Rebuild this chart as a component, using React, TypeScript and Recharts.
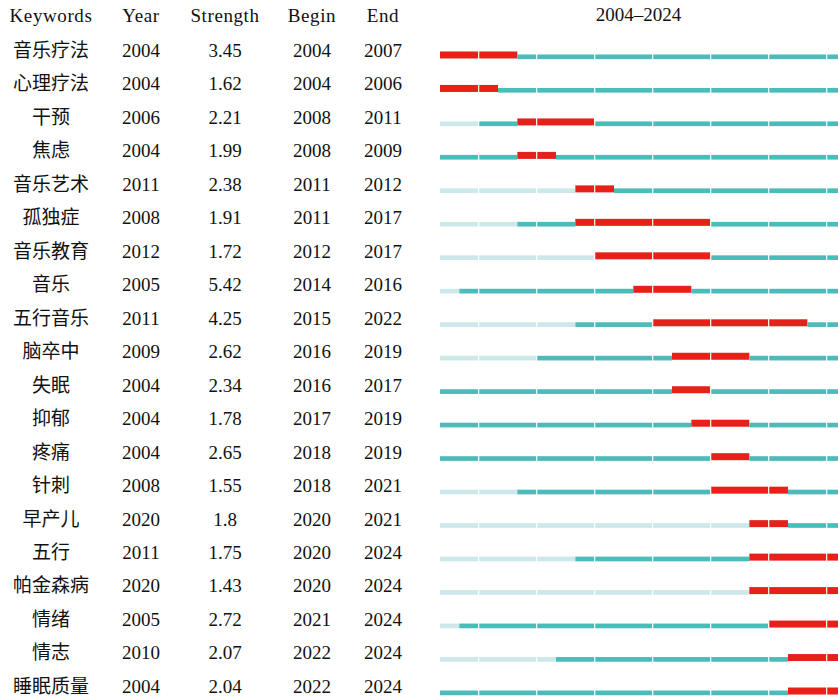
import React from 'react';
import { BarChart, Bar, XAxis, YAxis, ReferenceLine } from 'recharts';

const keywords = ['音乐疗法', '心理疗法', '干预', '焦虑', '音乐艺术', '孤独症', '音乐教育', '音乐', '五行音乐', '脑卒中', '失眠', '抑郁', '疼痛', '针刺', '早产儿', '五行', '帕金森病', '情绪', '情志', '睡眠质量'];
const firstYears = [2004, 2004, 2006, 2004, 2011, 2008, 2012, 2005, 2011, 2009, 2004, 2004, 2004, 2008, 2020, 2011, 2020, 2005, 2010, 2004];
const strengths = [3.45, 1.62, 2.21, 1.99, 2.38, 1.91, 1.72, 5.42, 4.25, 2.62, 2.34, 1.78, 2.65, 1.55, 1.8, 1.75, 1.43, 2.72, 2.07, 2.04];
const begins = [2004, 2004, 2008, 2008, 2011, 2011, 2012, 2014, 2015, 2016, 2016, 2017, 2018, 2018, 2020, 2020, 2020, 2021, 2022, 2022];
const ends = [2007, 2006, 2011, 2009, 2012, 2017, 2017, 2016, 2022, 2019, 2017, 2019, 2019, 2021, 2021, 2024, 2024, 2024, 2024, 2024];
const headers = ['Keywords', 'Year', 'Strength', 'Begin', 'End'];
const dividerYears = [2006, 2009, 2012, 2015, 2018, 2021, 2024];

const START = 2004;
const STOP = 2025;

const RED = '#e8201a';
const TEAL = '#4bbcba';
const LIGHT = '#cde8e9';

const colX = [51, 141, 225, 312, 383];
const FONT = '"Liberation Serif", "Noto Sans CJK SC", serif';

// header row first, then one row per keyword; segments are stacked durations
const rows = [
  { key: 'header', light: 0, before: 0, burst: 0, after: 0 },
  ...keywords.map((k, i) => ({
    key: k,
    light: firstYears[i] - START,
    before: begins[i] - firstYears[i],
    burst: ends[i] + 1 - begins[i],
    after: STOP - (ends[i] + 1),
  })),
];

const segShape = (color: string, top: number, bottom: number) => (props: any) => {
  const { x, y, width, height } = props;
  if (!width || width <= 0) return null;
  const c = y + height / 2;
  return <rect x={x} y={c + top} width={width} height={bottom - top} fill={color} />;
};

const TableTick = (props: any) => {
  const { y, payload } = props;
  const i = payload.index;
  if (i === 0) {
    return (
      <g fontFamily={FONT} fontSize={19} fill="#111">
        {headers.map((h, j) => (
          <text key={h} x={colX[j]} y={y} dy="0.3em" textAnchor="middle" letterSpacing={0.6}>{h}</text>
        ))}
        <text x={638.5} y={y - 1.5} dy="0.3em" textAnchor="middle">2004–2024</text>
      </g>
    );
  }
  const r = i - 1;
  const cells = [keywords[r], String(firstYears[r]), String(strengths[r]), String(begins[r]), String(ends[r])];
  return (
    <g fontFamily={FONT} fontSize={19} fill="#111">
      {cells.map((v, j) => (
        <text key={j} x={colX[j]} y={y} dy="0.35em" textAnchor="middle">{v}</text>
      ))}
    </g>
  );
};

export default function App() {
  return (
    <div style={{ position: 'absolute', left: 0, top: 0, width: 838, height: 697, overflow: 'hidden', background: '#fff' }}>
      <BarChart
        width={846}
        height={703}
        data={rows}
        layout="vertical"
        margin={{ top: 0, right: 0, bottom: 0, left: 0 }}
        barSize={10}
      >
        <XAxis type="number" domain={[0, STOP - START]} hide allowDataOverflow />
        <YAxis
          type="category"
          dataKey="key"
          width={440}
          interval={0}
          axisLine={false}
          tickLine={false}
          tick={<TableTick />}
        />
        <Bar dataKey="light" stackId="a" isAnimationActive={false} shape={segShape(LIGHT, 4, 8.7)} />
        <Bar dataKey="before" stackId="a" isAnimationActive={false} shape={segShape(TEAL, 4, 8.7)} />
        <Bar dataKey="burst" stackId="a" isAnimationActive={false} shape={segShape(RED, 1, 8)} />
        <Bar dataKey="after" stackId="a" isAnimationActive={false} shape={segShape(TEAL, 4, 8.7)} />
        {dividerYears.map((yr) => (
          <ReferenceLine key={yr} x={yr - START} stroke="#fff" strokeWidth={1.2} />
        ))}
      </BarChart>
    </div>
  );
}
